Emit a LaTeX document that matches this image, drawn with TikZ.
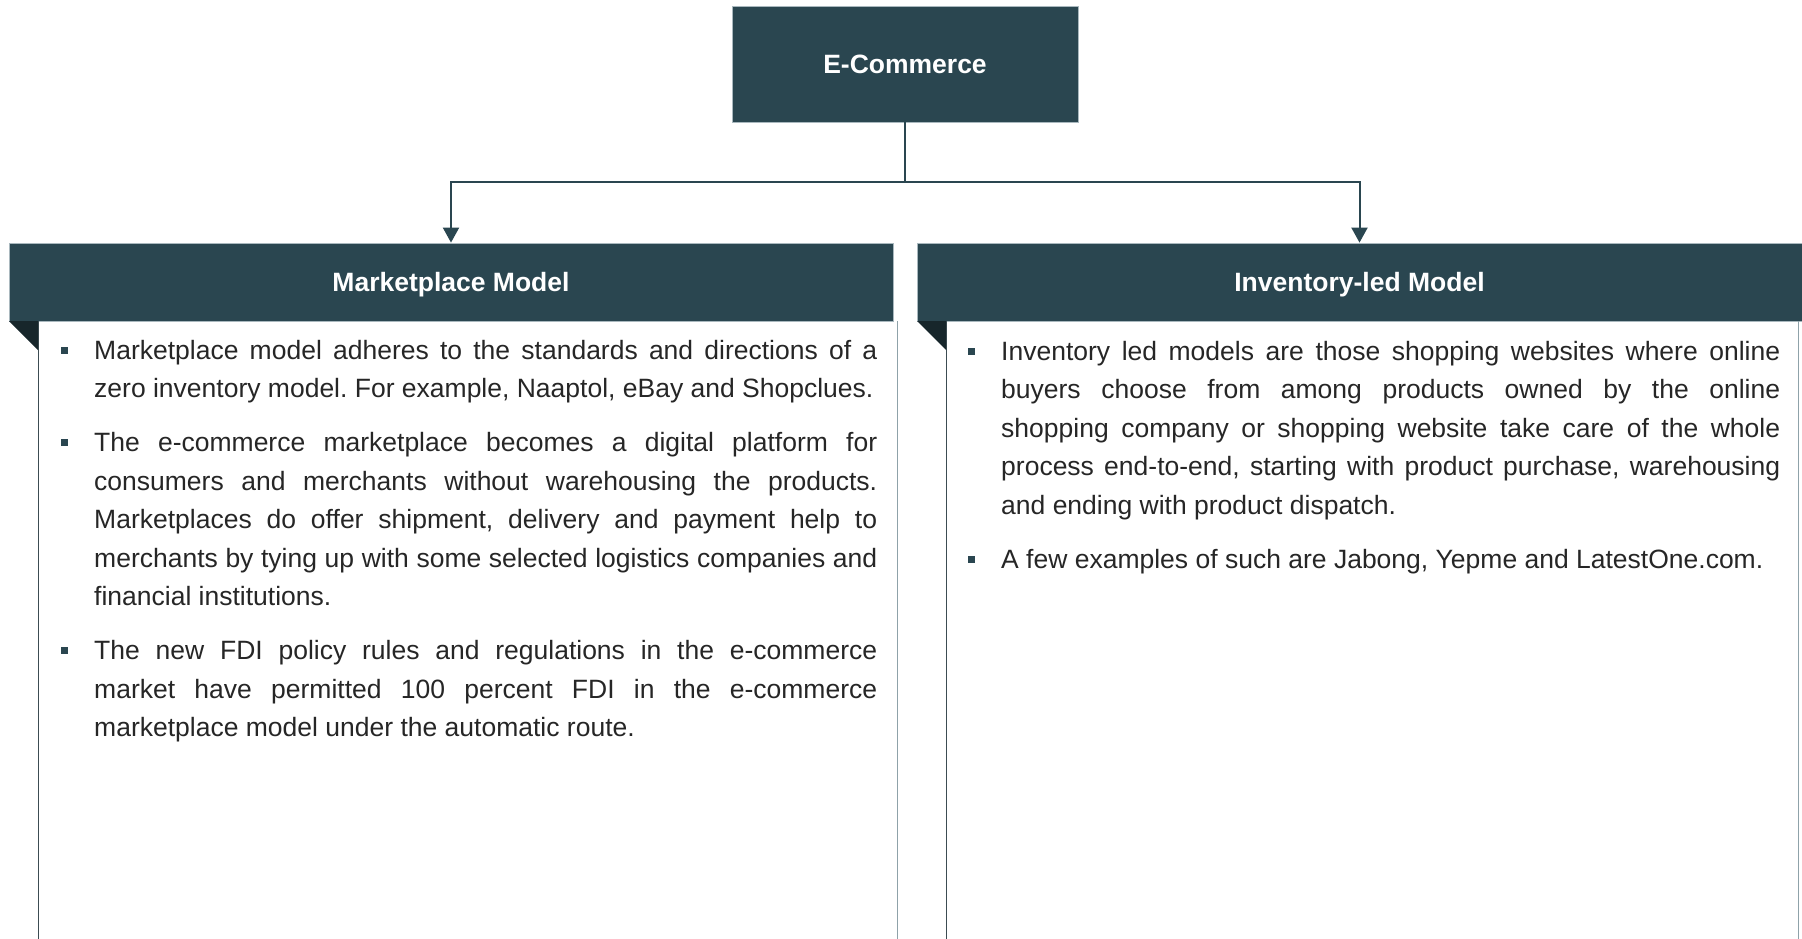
\documentclass[tikz,border=0pt]{standalone}
\usepackage{fontspec}
\setmainfont{Liberation Sans}
\usetikzlibrary{arrows.meta}
\definecolor{hdr}{HTML}{2A4650}
\definecolor{hdrline}{HTML}{A9B8BE}
\definecolor{tri}{HTML}{17262B}
\definecolor{txt}{HTML}{262626}
\definecolor{leftln}{HTML}{3C4C52}
\definecolor{rightln}{HTML}{8FA2A9}
\newcommand{\bul}{\noindent\llap{\textcolor{hdr}{\rule[5.5pt]{7pt}{7pt}}\hspace{26pt}}}
\newcommand{\parsetup}{\setlength{\parskip}{15.5pt}\hyphenpenalty=10000\exhyphenpenalty=10000\tolerance=9999\frenchspacing\spaceskip=\fontdimen2\font plus 2\fontdimen2\font minus 0pt\relax}
\tikzset{
  hdrbox/.style={fill=hdr, draw=hdrline, line width=0.8pt, inner sep=0pt, text=white,
    text height=19pt, text depth=0pt,
    font=\fontsize{26.5}{30}\selectfont\bfseries},
  conn/.style={draw=hdr, line width=2pt},
  tip/.style={-{Triangle[width=16pt,length=15pt]}},
  bodytext/.style={anchor=base west, inner sep=0pt, align=justify, text=txt,
    font=\fontsize{26.5}{38.5}\selectfont},
}
\begin{document}
\begin{tikzpicture}[x=1pt,y=1pt]
\useasboundingbox (0,0) rectangle (1802,-939);
% top node
\node[hdrbox, minimum width=346pt, minimum height=116pt] (ec) at (905,-64) {E-Commerce};
% headers
\node[hdrbox, minimum width=884pt, minimum height=78pt] (mp) at (451,-282) {Marketplace Model};
\node[hdrbox, minimum width=885pt, minimum height=78pt] (il) at (1359.5,-282) {Inventory-led Model};
% body borders
\draw[leftln, line width=1pt] (38,-321) -- (38,-945);
\draw[rightln, line width=1pt] (897,-321) -- (897,-945);
\draw[leftln, line width=1pt] (946,-321) -- (946,-945);
\draw[rightln, line width=1pt] (1798,-321) -- (1798,-945);
% corner triangles
\fill[tri] (9,-321) -- (38,-321) -- (38,-350) -- cycle;
\fill[tri] (917,-321) -- (946,-321) -- (946,-350) -- cycle;
% connectors
\coordinate (jn) at (905,-182);
\draw[conn] (ec.south) -- (jn);
\draw[conn, tip] (jn) -| (mp.north);
\draw[conn, tip] (jn) -| (il.north);
% texts
\node[bodytext, text width=783pt] (lt) at (94,-359) {\parsetup
\bul Marketplace model adheres to the standards and directions of a zero inventory model. For example, Naaptol, eBay and Shopclues.\par
\bul The e-commerce marketplace becomes a digital platform for consumers and merchants without warehousing the products. Marketplaces do offer shipment, delivery and payment help to merchants by tying up with some selected logistics companies and financial institutions.\par
\bul The new FDI policy rules and regulations in the e-commerce market have permitted 100 percent FDI in the e-commerce marketplace model under the automatic route.\par};
\node[bodytext, text width=779pt] (rt) at (1001,-360) {\parsetup
\bul Inventory led models are those shopping websites where online buyers choose from among products owned by the online shopping company or shopping website take care of the whole process end-to-end, starting with product purchase, warehousing and ending with product dispatch.\par
\bul A few examples of such are Jabong, Yepme and LatestOne.com.\par};
\end{tikzpicture}
\end{document}
